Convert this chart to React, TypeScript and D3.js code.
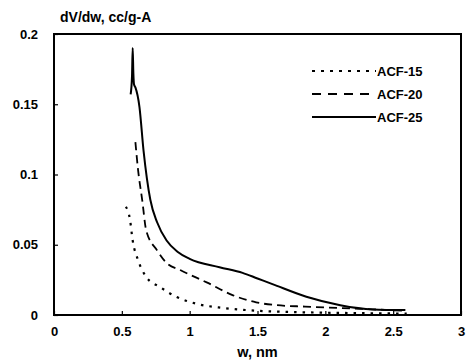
import { useEffect, useRef } from "react";
import * as d3 from "d3";

// pore width w (nm) and dV/dw (cc/g-A)
const acf15W = [0.53, 0.56, 0.58, 0.62, 0.68, 0.78, 0.9, 1.05, 1.25, 1.5, 1.8, 2.1, 2.4, 2.6];
const acf15V = [0.077, 0.068, 0.053, 0.039, 0.027, 0.02, 0.013, 0.008, 0.005, 0.003, 0.002, 0.0015, 0.0012, 0.001];

const acf20W = [0.6, 0.62, 0.65, 0.68, 0.76, 0.83, 0.93, 1.13, 1.32, 1.49, 1.64, 1.85, 2.1, 2.35, 2.6];
const acf20V = [0.123, 0.103, 0.082, 0.06, 0.046, 0.037, 0.032, 0.023, 0.014, 0.009, 0.007, 0.006, 0.005, 0.004, 0.003];

const acf25W = [0.565, 0.575, 0.58, 0.585, 0.59, 0.6, 0.63, 0.66, 0.71, 0.76, 0.83, 0.91, 1.0, 1.22, 1.39, 1.5, 1.61, 1.86, 2.11, 2.35, 2.59];
const acf25V = [0.157, 0.17, 0.19, 0.172, 0.164, 0.162, 0.148, 0.117, 0.082, 0.066, 0.053, 0.045, 0.04, 0.034, 0.03, 0.026, 0.022, 0.013, 0.007, 0.004, 0.0035];

const seriesNames = ["ACF-15", "ACF-20", "ACF-25"];
const xTicks = [0, 0.5, 1, 1.5, 2, 2.5, 3];
const yTicks = [0, 0.05, 0.1, 0.15, 0.2];

const width = 468;
const height = 364;
const margin = { top: 34, right: 7, bottom: 49, left: 54 };

export default function App() {
  const svgRef = useRef<SVGSVGElement>(null);

  useEffect(() => {
    if (!svgRef.current) return;
    const svg = d3.select(svgRef.current);
    svg.selectAll("*").remove();

    const innerW = width - margin.left - margin.right;
    const innerH = height - margin.top - margin.bottom;

    const x = d3.scaleLinear().domain([0, 3]).range([0, innerW]);
    const y = d3.scaleLinear().domain([0, 0.2]).range([innerH, 0]);

    const font = "'Liberation Sans', Arial, sans-serif";

    const g = svg
      .append("g")
      .attr("transform", `translate(${margin.left},${margin.top})`);

    // frame
    g.append("rect")
      .attr("width", innerW)
      .attr("height", innerH)
      .attr("fill", "none")
      .attr("stroke", "#000")
      .attr("stroke-width", 2);

    // x axis, ticks pointing in
    const xAxis = g
      .append("g")
      .attr("transform", `translate(0,${innerH})`)
      .call(
        d3
          .axisBottom(x)
          .tickValues(xTicks)
          .tickSizeInner(-4)
          .tickSizeOuter(0)
          .tickPadding(12)
          .tickFormat((d) => d3.format("")(d as number))
      );
    xAxis.select(".domain").remove();
    xAxis.selectAll("line").attr("stroke-width", 1.2);
    xAxis
      .selectAll("text")
      .attr("font-family", font)
      .attr("font-size", 13)
      .attr("font-weight", "bold")
      .attr("fill", "#000");

    // y axis
    const yAxis = g.append("g").call(
      d3
        .axisLeft(y)
        .tickValues(yTicks)
        .tickSizeInner(-4)
        .tickSizeOuter(0)
        .tickPadding(16)
        .tickFormat((d) => String(d))
    );
    yAxis.select(".domain").remove();
    yAxis.selectAll("line").attr("stroke-width", 1.2);
    yAxis
      .selectAll("text")
      .attr("font-family", font)
      .attr("font-size", 13)
      .attr("font-weight", "bold")
      .attr("fill", "#000");

    // titles
    svg
      .append("text")
      .attr("x", 60)
      .attr("y", 22)
      .attr("font-family", font)
      .attr("font-size", 14)
      .attr("font-weight", "bold")
      .text("dV/dw, cc/g-A");

    svg
      .append("text")
      .attr("x", margin.left + innerW / 2)
      .attr("y", 357)
      .attr("text-anchor", "middle")
      .attr("font-family", font)
      .attr("font-size", 14.5)
      .attr("font-weight", "bold")
      .text("w, nm");

    const line = d3
      .line<[number, number]>()
      .x((d) => x(d[0]))
      .y((d) => y(d[1]))
      .curve(d3.curveMonotoneX);

    const series = [
      { pts: d3.zip(acf15W, acf15V) as [number, number][], dash: "2.5 6", w: 2.2 },
      { pts: d3.zip(acf20W, acf20V) as [number, number][], dash: "8 5", w: 1.8 },
      { pts: d3.zip(acf25W, acf25V) as [number, number][], dash: null, w: 2 },
    ];

    series.forEach((s) => {
      g.append("path")
        .attr("d", line(s.pts))
        .attr("fill", "none")
        .attr("stroke", "#000")
        .attr("stroke-width", s.w)
        .attr("stroke-dasharray", s.dash)
        .attr("stroke-linejoin", "round");
    });

    // legend
    const legendDash = ["3 6", "9 7", null];
    const legend = svg
      .append("g")
      .selectAll("g")
      .data(seriesNames)
      .join("g")
      .attr("transform", (d, i) => `translate(312,${71 + i * 23})`);

    legend
      .append("line")
      .attr("x1", 0)
      .attr("x2", 64)
      .attr("stroke", "#000")
      .attr("stroke-width", (d, i) => (i === 2 ? 2 : 1.8))
      .attr("stroke-dasharray", (d, i) => legendDash[i]);

    legend
      .append("text")
      .attr("x", 65)
      .attr("dy", "0.35em")
      .attr("font-family", font)
      .attr("font-size", 13)
      .attr("font-weight", "bold")
      .text((d) => d);
  }, []);

  return (
    <svg
      ref={svgRef}
      width={width}
      height={height}
      style={{ position: "absolute", left: 0, top: 0, background: "#fff" }}
    />
  );
}
